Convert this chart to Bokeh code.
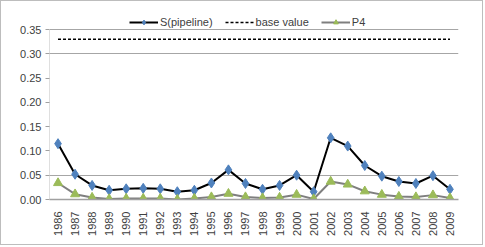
from bokeh.plotting import figure
from bokeh.models import FactorRange, Range1d, FixedTicker, Legend, LegendItem, NumeralTickFormatter
from bokeh.embed import file_html
from bokeh.resources import INLINE
import math

years = [str(y) for y in range(1986, 2010)]
s_pipeline = [0.115, 0.052, 0.029, 0.019, 0.022, 0.023, 0.022, 0.016, 0.019, 0.034,
              0.061, 0.033, 0.021, 0.029, 0.050, 0.016, 0.127, 0.110, 0.070, 0.048,
              0.037, 0.033, 0.049, 0.021]
p4 = [0.034, 0.011, 0.004, 0.001, 0.002, 0.002, 0.002, 0.000, 0.002, 0.005,
      0.012, 0.005, 0.003, 0.004, 0.010, 0.001, 0.037, 0.031, 0.017, 0.010,
      0.006, 0.005, 0.009, 0.003]
base_value = [0.33] * len(years)
y_ticks = [0.0, 0.05, 0.10, 0.15, 0.20, 0.25, 0.30, 0.35]
y_max = 0.35

# frame extends above the 0.35 line so that the legend fits inside it
frame_h = 194
axis_h = 170
p = figure(width=483, height=245, output_backend="svg", toolbar_location=None,
           x_range=FactorRange(*years, range_padding=0),
           y_range=Range1d(0, y_max * frame_h / axis_h))
p.styles = {"border": "1px solid #bdbdbd"}
p.min_border_left = 48
p.min_border_right = 26
p.min_border_top = 4
p.min_border_bottom = 47
p.outline_line_color = None
p.background_fill_color = "white"
p.border_fill_color = "white"

# axes
p.yaxis.ticker = FixedTicker(ticks=y_ticks)
p.yaxis.formatter = NumeralTickFormatter(format="0.00")
p.yaxis.axis_line_color = None
p.yaxis.major_tick_line_color = "#a0a0a0"
p.yaxis.major_tick_out = 4
p.yaxis.major_tick_in = 0
p.yaxis.minor_tick_line_color = None
p.yaxis.major_label_text_font = "Liberation Sans"
p.yaxis.major_label_text_font_size = "11px"
p.yaxis.major_label_text_color = "#404040"
p.yaxis.major_label_standoff = 4

p.xaxis.axis_line_color = "#a0a0a0"
p.xaxis.axis_line_width = 1.5
p.xaxis.major_tick_line_color = None
p.xaxis.major_label_orientation = math.pi / 2
p.xaxis.major_label_text_font = "Liberation Sans"
p.xaxis.major_label_text_font_size = "11px"
p.xaxis.major_label_text_color = "#404040"
p.xaxis.major_label_standoff = 6

p.xgrid.grid_line_color = None
p.ygrid.ticker = FixedTicker(ticks=[0.05, 0.30, 0.35])
p.ygrid.grid_line_color = "#a6a6a6"
p.ygrid.grid_line_width = 1

# vertical axis line only from 0 to 0.35
p.segment(x0=[(years[0], -0.5)], y0=[0], x1=[(years[0], -0.5)], y1=[y_max],
          line_color="#bfbfbf", line_width=1)

# series
r_s_line = p.line(years, s_pipeline, line_color="black", line_width=2)
r_s_pts = p.scatter(years, s_pipeline, marker="diamond", size=10,
                    fill_color="#4F81BD", line_color="#4F81BD")
r_b = p.line(years, base_value, line_color="black", line_width=1.5, line_dash="3 2")
r_p_line = p.line(years, p4, line_color="#7f7f7f", line_width=2)
r_p_pts = p.scatter(years, p4, marker="triangle", size=9,
                    fill_color="#9BBB59", line_color="#9BBB59")

legend = Legend(items=[
    LegendItem(label="S(pipeline)", renderers=[r_s_line, r_s_pts]),
    LegendItem(label="base value", renderers=[r_b]),
    LegendItem(label="P4", renderers=[r_p_line, r_p_pts]),
], orientation="horizontal", location=(80, 171))
legend.background_fill_alpha = 0
legend.border_line_color = None
legend.label_text_font = "Liberation Sans"
legend.label_text_font_size = "11px"
legend.label_text_color = "#404040"
legend.glyph_width = 29
legend.glyph_height = 12
legend.label_standoff = 2
legend.spacing = 12
legend.padding = 0
legend.margin = 0
legend.label_height = 12
p.add_layout(legend, "center")

open("out.html", "w").write(file_html(p, INLINE))
